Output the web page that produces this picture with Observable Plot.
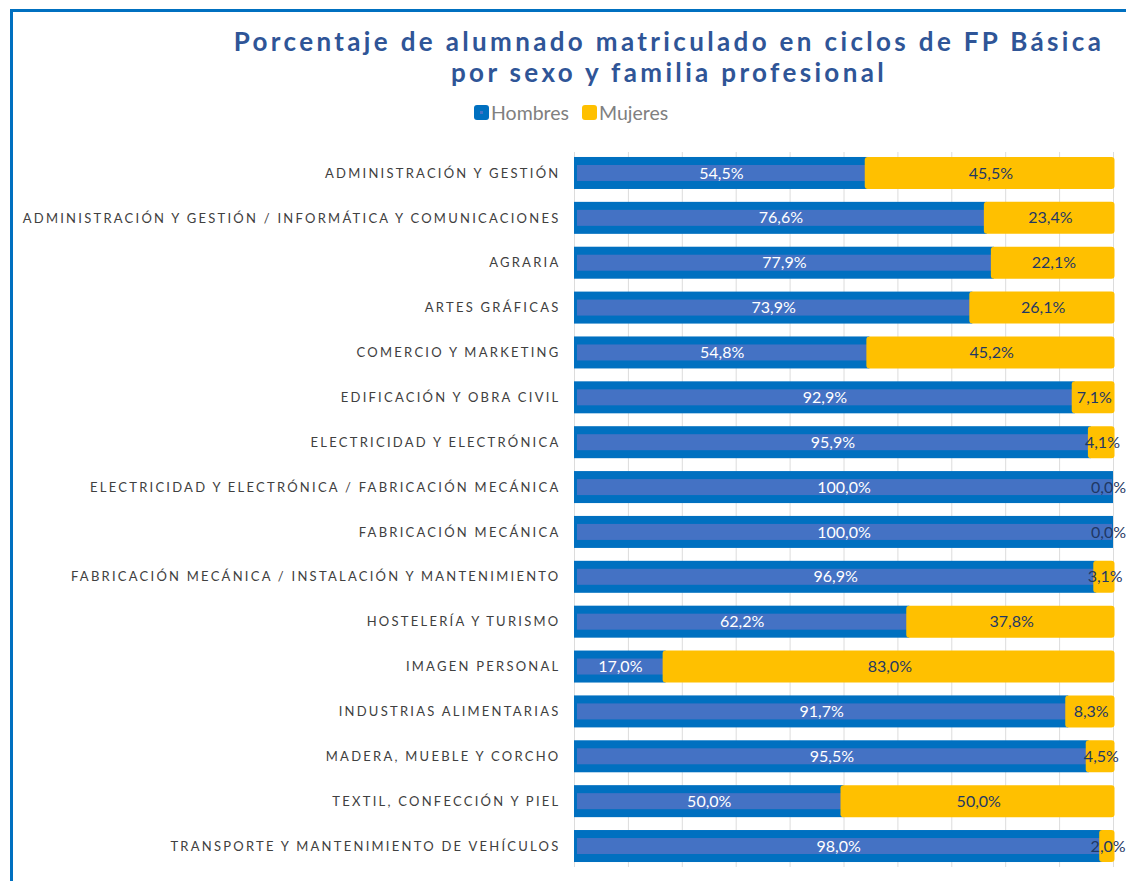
<!DOCTYPE html>
<html>
<head>
<meta charset="utf-8">
<script src="https://cdn.jsdelivr.net/npm/d3@7"></script>
<script src="https://cdn.jsdelivr.net/npm/@observablehq/plot@0.6"></script>
<style>
  html, body { margin: 0; padding: 0; background: #fff; overflow: hidden; }
  body { width: 1126px; height: 881px; position: relative; font-family: "Lato", sans-serif; }
  #frame { position: absolute; left: 10px; top: 9px; width: 1300px; height: 1000px; border: 3px solid #0070C0; box-sizing: border-box; }
  #title { position: absolute; left: 212px; width: 914px; top: 26px; text-align: center; color: #2F5597; font-weight: 700; font-size: 26px; line-height: 31px; letter-spacing: 3.35px; }
  #legend { position: absolute; top: 101px; left: 474px; display: flex; align-items: center; color: #808080; font-size: 19.5px; }
  .sw { width: 15px; height: 15px; border-radius: 3px; display: inline-flex; align-items: center; justify-content: center; margin-right: 2px; }
  .sw i { width: 3px; height: 3px; background: #4472C4; display: block; }
  .item { display: flex; align-items: center; margin-right: 13px; }
  #chart { position: absolute; left: 0; top: 140px; }
  #chart g[aria-label="y-axis tick label"] text { letter-spacing: 2.25px; fill: #404040; }
</style>
</head>
<body>
<div id="frame"></div>
<div id="title">Porcentaje de alumnado matriculado en ciclos de FP Básica<br>por sexo y familia profesional</div>
<div id="legend"></div>
<div id="chart"></div>
<script>
const categorias = [
  "ADMINISTRACIÓN Y GESTIÓN",
  "ADMINISTRACIÓN Y GESTIÓN / INFORMÁTICA Y COMUNICACIONES",
  "AGRARIA",
  "ARTES GRÁFICAS",
  "COMERCIO Y MARKETING",
  "EDIFICACIÓN Y OBRA CIVIL",
  "ELECTRICIDAD Y ELECTRÓNICA",
  "ELECTRICIDAD Y ELECTRÓNICA / FABRICACIÓN MECÁNICA",
  "FABRICACIÓN MECÁNICA",
  "FABRICACIÓN MECÁNICA / INSTALACIÓN Y MANTENIMIENTO",
  "HOSTELERÍA Y TURISMO",
  "IMAGEN PERSONAL",
  "INDUSTRIAS ALIMENTARIAS",
  "MADERA, MUEBLE Y CORCHO",
  "TEXTIL, CONFECCIÓN Y PIEL",
  "TRANSPORTE Y MANTENIMIENTO DE VEHÍCULOS"
];
const hombres = [54.5, 76.6, 77.9, 73.9, 54.8, 92.9, 95.9, 100.0, 100.0, 96.9, 62.2, 17.0, 91.7, 95.5, 50.0, 98.0];
const mujeres = [45.5, 23.4, 22.1, 26.1, 45.2, 7.1, 4.1, 0.0, 0.0, 3.1, 37.8, 83.0, 8.3, 4.5, 50.0, 2.0];
const series = ["Hombres", "Mujeres"];
const colores = ["#0070C0", "#FFC000"];
const gridTicks = [0, 10, 20, 30, 40, 50, 60, 70, 80, 90, 100];

const data = categorias.map((c, i) => ({cat: c, h: hombres[i], m: mujeres[i]}));
const fmt = v => v.toFixed(1).replace(".", ",") + "%";

// legend
const legend = document.getElementById("legend");
series.forEach((s, i) => {
  const it = document.createElement("div");
  it.className = "item";
  it.innerHTML = `<span class="sw" style="background:${colores[i]}">${i === 0 ? "<i></i>" : ""}</span>${s}`;
  legend.appendChild(it);
});

const plot = Plot.plot({
  width: 1126,
  height: 741,
  marginLeft: 574,
  marginRight: 13,
  marginTop: 12,
  marginBottom: 14,
  style: {fontFamily: "Lato, sans-serif", background: "transparent", overflow: "visible"},
  x: {domain: [0, 100], axis: null},
  y: {domain: categorias, paddingInner: 0.287, paddingOuter: 0.111, round: false, label: null},
  marks: [
    Plot.ruleX(gridTicks, {stroke: "#DCDCDC", strokeWidth: 1}),
    Plot.barX(data, {y: "cat", x1: 0, x2: "h", fill: colores[0]}),
    Plot.barX(data, {y: "cat", x1: 0, x2: "h", fill: "#4472C4", insetTop: 8, insetBottom: 8, insetLeft: 3, insetRight: 1}),
    Plot.barX(data.filter(d => d.m > 0), {y: "cat", x1: "h", x2: d => d.h + d.m, fill: colores[1], rx: 3, insetLeft: -3, insetRight: -1.5}),
    Plot.text(data, {y: "cat", x: d => d.h / 2, text: d => fmt(d.h), fill: "white", fontSize: 16}),
    Plot.text(data.filter(d => d.m > 0), {y: "cat", x: d => d.h + d.m / 2, text: d => fmt(d.m), fill: "#1F3864", fontSize: 16}),
    Plot.text(data.filter(d => d.m === 0), {y: "cat", x: d => d.h + d.m / 2, text: d => fmt(d.m), fill: "#1F3864", fontSize: 16, dx: -5}),
    Plot.axisY({tickSize: 0, tickPadding: 14, fontSize: 13})
  ]
});
document.getElementById("chart").appendChild(plot);
</script>
</body>
</html>
